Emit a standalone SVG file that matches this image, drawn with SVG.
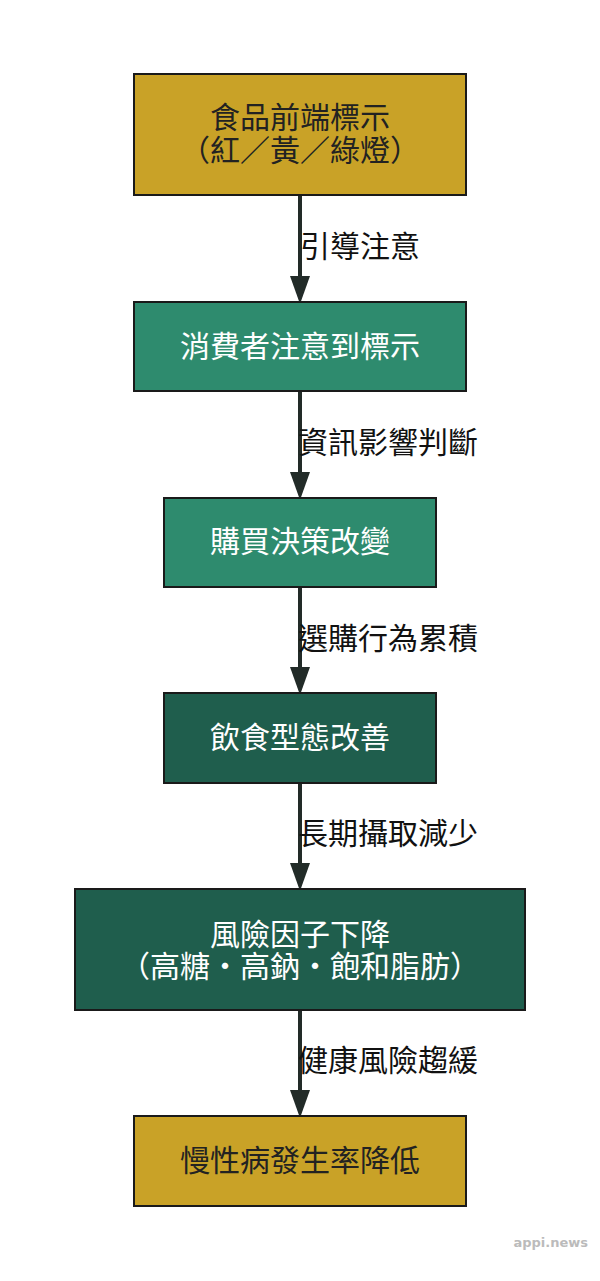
<svg xmlns="http://www.w3.org/2000/svg" width="600" height="1281" viewBox="0 0 600 1281">
<style>
.n{stroke:#1a1a1a;stroke-width:2}
.gold{fill:#C9A227}
.mid{fill:#2E8B6E}
.dark{fill:#1F5E4D}
text{font-family:"Noto Sans CJK TC","Noto Sans CJK SC",sans-serif;font-size:30px;text-anchor:middle}
.dt{fill:#222222}
.wt{fill:#ffffff}
.el{fill:#111111;text-anchor:start}
.e{stroke:#222b28;stroke-width:4;fill:none}
.ah{fill:#222b28}
.wm{font-family:"DejaVu Sans",sans-serif;font-size:13px;font-weight:bold;fill:#bbbbbb;text-anchor:end}
</style>
<rect width="600" height="1281" fill="#ffffff"/>
<g id="connectors">
<line class="e" x1="300" y1="196" x2="300" y2="276"/>
<path class="ah" d="M290,276 L310,276 L300,304 Z"/>
<line class="e" x1="300" y1="392" x2="300" y2="472"/>
<path class="ah" d="M290,472 L310,472 L300,500 Z"/>
<line class="e" x1="300" y1="588" x2="300" y2="667"/>
<path class="ah" d="M290,667 L310,667 L300,695 Z"/>
<line class="e" x1="300" y1="784" x2="300" y2="863"/>
<path class="ah" d="M290,863 L310,863 L300,891 Z"/>
<line class="e" x1="300" y1="1011" x2="300" y2="1090"/>
<path class="ah" d="M290,1090 L310,1090 L300,1118 Z"/>
<text class="el" x="300" y="257">引導注意</text>
<text class="el" x="298" y="453">資訊影響判斷</text>
<text class="el" x="298" y="649">選購行為累積</text>
<text class="el" x="298" y="844">長期攝取減少</text>
<text class="el" x="298" y="1071">健康風險趨緩</text>
</g>
<g id="node1">
<rect class="n gold" x="134" y="74" width="332" height="121"/>
<text class="dt" x="300" y="128">食品前端標示<tspan x="300" y="161">（紅／黃／綠燈）</tspan></text>
</g>
<g id="node2">
<rect class="n mid" x="134" y="302" width="332" height="89"/>
<text class="wt" x="300" y="357">消費者注意到標示</text>
</g>
<g id="node3">
<rect class="n mid" x="164" y="498" width="272" height="89"/>
<text class="wt" x="300" y="552">購買決策改變</text>
</g>
<g id="node4">
<rect class="n dark" x="164" y="693" width="272" height="90"/>
<text class="wt" x="300" y="748">飲食型態改善</text>
</g>
<g id="node5">
<rect class="n dark" x="75" y="889" width="450" height="121"/>
<text class="wt" x="300" y="945">風險因子下降<tspan x="300" y="977">（高糖・高鈉・飽和脂肪）</tspan></text>
</g>
<g id="node6">
<rect class="n gold" x="134" y="1116" width="332" height="90"/>
<text class="dt" x="300" y="1171">慢性病發生率降低</text>
</g>
<text class="wm" x="588" y="1247">appi.news</text>
</svg>
